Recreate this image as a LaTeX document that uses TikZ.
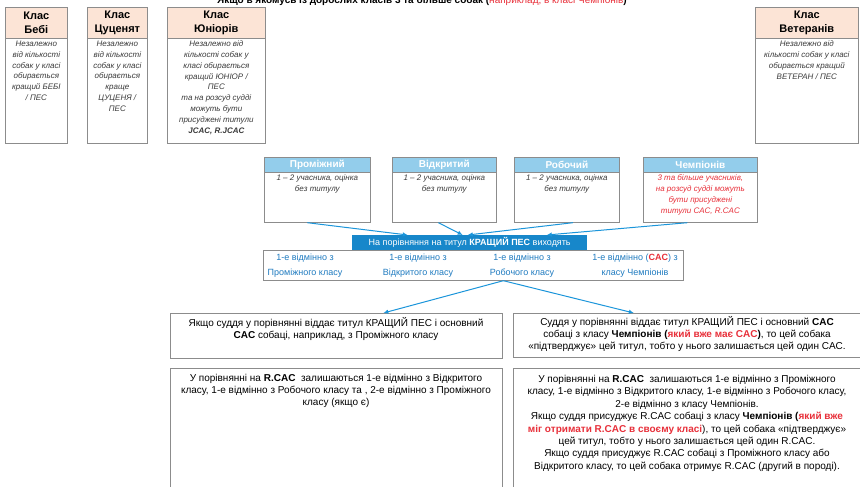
\documentclass[tikz,border=0pt]{standalone}
\usepackage{fontspec}
\setmainfont{Liberation Sans}
\usetikzlibrary{arrows.meta,positioning}
\definecolor{peach}{HTML}{FCE4D6}
\definecolor{hdrblue}{HTML}{93CDEB}
\definecolor{bannerblue}{HTML}{1787CA}
\definecolor{rowblue}{HTML}{1F7BC0}
\definecolor{arrblue}{HTML}{1B95DA}
\definecolor{boxgrey}{HTML}{8C8C8C}
\definecolor{darktxt}{HTML}{3A3A3A}
\definecolor{redtxt}{HTML}{E8303A}

\begin{document}
\begin{tikzpicture}[x=1pt,y=-1pt,
  classframe/.style={draw=boxgrey,fill=white,line width=0.7pt,anchor=north west,inner sep=0pt},
  classhead/.style={draw=boxgrey,fill=peach,line width=0.7pt,anchor=north west,inner sep=0pt,align=center,font=\bfseries\fontsize{11}{14}\selectfont},
  classtext/.style={anchor=north,align=center,inner sep=0pt,text=darktxt,font=\itshape\fontsize{8}{10.8}\selectfont},
  ringhead/.style={draw=boxgrey,fill=hdrblue,line width=0.7pt,anchor=north west,inner sep=0pt,minimum height=15pt,text=white,font=\bfseries\fontsize{10}{12}\selectfont},
  rulebox/.style={draw=boxgrey,fill=white,line width=0.7pt,anchor=north west,inner sep=0pt},
  ruletext/.style={anchor=north,align=center,inner sep=0pt,font=\fontsize{10}{12}\selectfont},
  rowtext/.style={align=center,inner sep=0pt,text=rowblue,font=\fontsize{9}{14.5}\selectfont},
  pick/.style={-{Latex[length=5pt,width=4.5pt]},arrblue,line width=1pt}]
\useasboundingbox (0,0) rectangle (860,487);

\node[anchor=base,font=\bfseries\fontsize{10}{12}\selectfont] (title) at (422,4)
  {Якщо в якомусь із дорослих класів 3 та більше собак (\textcolor{redtxt}{\mdseries наприклад, в класі Чемпіонів})};

% class boxes
\node[classframe,minimum width=62pt,minimum height=136pt] (bebi) at (5,7) {};
\node[classhead,minimum width=62pt,minimum height=31pt] (bebi-h) at (5,7) {Клас\\Бебі};
\node[classtext] (bebi-t) at ([yshift=-2pt]bebi-h.south)
  {Незалежно\\від кількості\\собак у класі\\обирається\\кращий БЕБІ\\/ ПЕС};

\node[classframe,minimum width=60pt,minimum height=136pt] (cuc) at (87,7) {};
\node[classhead,minimum width=60pt,minimum height=31pt] (cuc-h) at (87,7) {Клас\\Цуценят};
\node[classtext] (cuc-t) at ([yshift=-2pt]cuc-h.south)
  {Незалежно\\від кількості\\собак у класі\\обирається\\краще\\ЦУЦЕНЯ /\\ПЕС};

\node[classframe,minimum width=98pt,minimum height=136pt] (jun) at (167,7) {};
\node[classhead,minimum width=98pt,minimum height=31pt] (jun-h) at (167,7) {Клас\\Юніорів};
\node[classtext] (jun-t) at ([yshift=-2pt]jun-h.south)
  {Незалежно від\\кількості собак у\\класі обирається\\кращий ЮНІОР /\\ПЕС\\та на розсуд судді\\можуть бути\\присуджені титули\\\textbf{JCAC, R.JCAC}};

\node[classframe,minimum width=103pt,minimum height=136pt] (vet) at (755,7) {};
\node[classhead,minimum width=103pt,minimum height=31pt] (vet-h) at (755,7) {Клас\\Ветеранів};
\node[classtext] (vet-t) at ([yshift=-2pt]vet-h.south)
  {Незалежно від\\кількості собак у класі\\обирається кращий\\ВЕТЕРАН / ПЕС};

% ring classes
\node[classframe,minimum width=106pt,minimum height=65pt] (prom) at (264,157) {};
\node[ringhead,minimum width=106pt] (prom-h) at (264,157) {Проміжний};
\node[classtext] (prom-t) at ([yshift=-2pt]prom-h.south) {1 – 2 учасника, оцінка\\без титулу};

\node[classframe,minimum width=104pt,minimum height=65pt] (vidk) at (392,157) {};
\node[ringhead,minimum width=104pt] (vidk-h) at (392,157) {Відкритий};
\node[classtext] (vidk-t) at ([yshift=-2pt]vidk-h.south) {1 – 2 учасника, оцінка\\без титулу};

\node[classframe,minimum width=105pt,minimum height=65pt] (rob) at (514,157) {};
\node[ringhead,minimum width=105pt] (rob-h) at (514,157) {Робочий};
\node[classtext] (rob-t) at ([yshift=-2pt]rob-h.south) {1 – 2 учасника, оцінка\\без титулу};

\node[classframe,minimum width=114pt,minimum height=65pt] (champ) at (643,157) {};
\node[ringhead,minimum width=114pt] (champ-h) at (643,157) {Чемпіонів};
\node[classtext,text=redtxt] (champ-t) at ([yshift=-2pt]champ-h.south)
  {3 та більше учасників,\\на розсуд судді можуть\\бути присуджені\\титули CAC, R.CAC};

% best dog comparison
\node[rulebox,minimum width=420pt,minimum height=30pt] (row) at (263,250) {};
\node[anchor=north west,fill=bannerblue,inner sep=0pt,minimum width=235pt,minimum height=15pt,
  text=white,font=\fontsize{9}{11}\selectfont] (banner) at (352,235)
  {На порівняння на титул \textbf{КРАЩИЙ ПЕС} виходять};
\node[rowtext] (rowA) at (305,265.5) {1-е відмінно з\\Проміжного класу};
\node[rowtext] (rowB) at (418,265.5) {1-е відмінно з\\Відкритого класу};
\node[rowtext] (rowC) at (522,265.5) {1-е відмінно з\\Робочого класу};
\node[rowtext] (rowD) at (635,265.5) {1-е відмінно (\textcolor{redtxt}{\textbf{CAC}}) з\\класу Чемпіонів};

\draw[pick] ([xshift=-10pt]prom.south) -- ([xshift=-62pt]banner.north);
\draw[pick] ([xshift=-6pt]vidk.south) -- ([xshift=-7pt]banner.north);
\draw[pick] ([xshift=6pt]rob.south) -- ([xshift=-2pt]banner.north);
\draw[pick] ([xshift=-13pt]champ.south) -- ([xshift=77pt]banner.north);

% judge outcomes
\node[rulebox,minimum width=332pt,minimum height=45pt] (sudA) at (170,313) {};
\node[ruletext] (sudA-t) at (336,317)
  {Якщо суддя у порівнянні віддає титул КРАЩИЙ ПЕС і основний\\\textbf{CAC} собаці, наприклад, з Проміжного класу};

\node[rulebox,minimum width=349pt,minimum height=44pt] (sudB) at (513,313) {};
\node[ruletext] (sudB-t) at (687,316)
  {Суддя у порівнянні віддає титул КРАЩИЙ ПЕС і основний \textbf{CAC}\\собаці з класу \textbf{Чемпіонів (\textcolor{redtxt}{який вже має CAC})}, то цей собака\\«підтверджує» цей титул, тобто у нього залишається цей один CAC.};

\draw[pick] ([xshift=30pt]row.south) -- ([xshift=47pt]sudA.north);
\draw[pick] ([xshift=30pt]row.south) -- ([xshift=-54pt]sudB.north);

\node[rulebox,minimum width=332pt,minimum height=127pt] (rcacA) at (170,368) {};
\node[ruletext] (rcacA-t) at (336,374)
  {У порівнянні на \textbf{R.CAC}\ \ залишаються 1-е відмінно з Відкритого\\класу, 1-е відмінно з Робочого класу та , 2-е відмінно з Проміжного\\класу (якщо є)};

\node[rulebox,minimum width=349pt,minimum height=127pt] (rcacB) at (513,368) {};
\node[ruletext,font=\fontsize{10}{12.4}\selectfont] (rcacB-t) at (687,375)
  {У порівнянні на \textbf{R.CAC}\ \ залишаються 1-е відмінно з Проміжного\\класу, 1-е відмінно з Відкритого класу, 1-е відмінно з Робочого класу,\\2-е відмінно з класу Чемпіонів.\\Якщо суддя присуджує R.CAC собаці з класу \textbf{Чемпіонів (\textcolor{redtxt}{який вже}}\\\textcolor{redtxt}{\textbf{міг отримати R.CAC в своєму класі}}), то цей собака «підтверджує»\\цей титул, тобто у нього залишається цей один R.CAC.\\Якщо суддя присуджує R.CAC собаці з Проміжного класу або\\Відкритого класу, то цей собака отримує R.CAC (другий в породі).};
\end{tikzpicture}
\end{document}
